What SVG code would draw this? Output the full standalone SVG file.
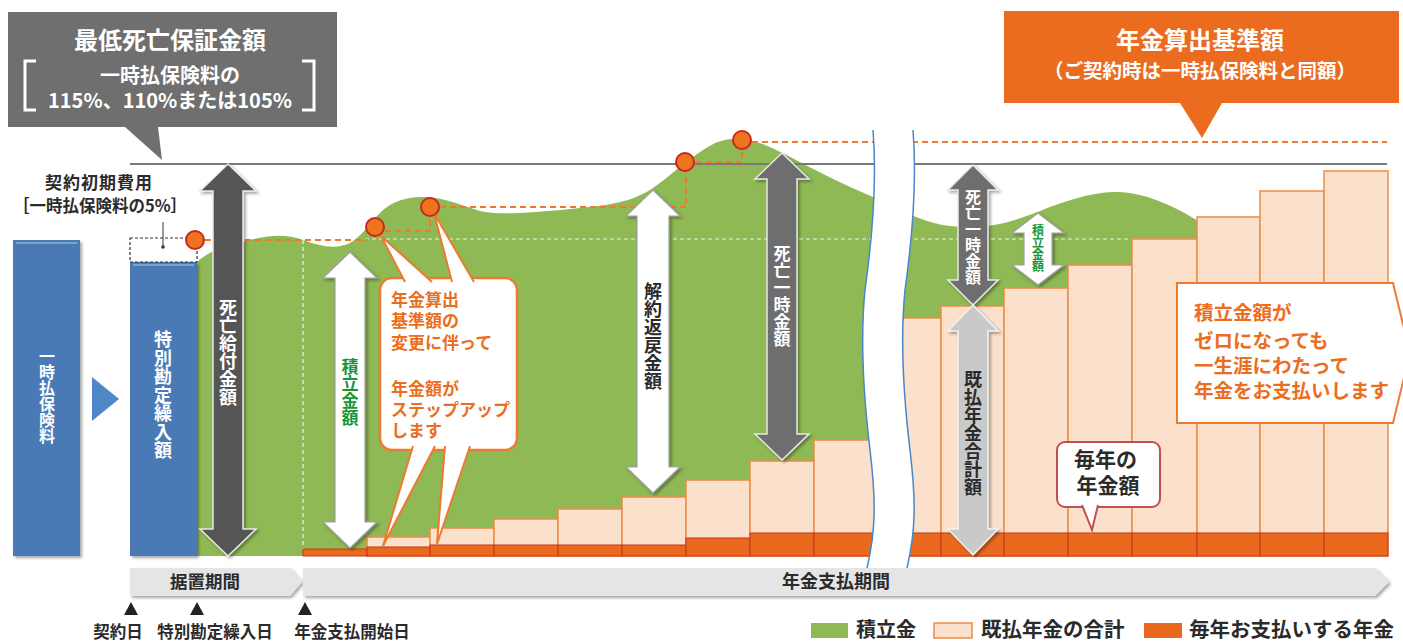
<svg xmlns="http://www.w3.org/2000/svg" width="1403" height="641" viewBox="0 0 1403 641">
<defs>
<style>
.t{font-family:"Noto Sans CJK JP","Noto Sans",sans-serif;font-weight:700}
.v{writing-mode:vertical-rl;text-orientation:upright}
.w{fill:#ffffff}
.dk{fill:#2b2b2b}
.or{fill:#eb6d20}
.gr{fill:#17953a}
.peach{fill:#fbe1cb;stroke:#f08a45;stroke-width:1.5}
.ann{fill:#e9691f;stroke:#c8341c;stroke-width:1}
.odash{fill:none;stroke:#ee7a30;stroke-width:2;stroke-dasharray:6 4}
.wdash{fill:none;stroke:#ffffff;stroke-opacity:0.85;stroke-width:1.2;stroke-dasharray:4 3}
.dot{fill:#ee7420;stroke:#c8281e;stroke-width:2}
.band{fill:#e5e5e5}
</style>
<filter id="sh" x="-20%" y="-20%" width="140%" height="140%">
<feDropShadow dx="2" dy="2" stdDeviation="1.5" flood-color="#000" flood-opacity="0.35"/>
</filter>
</defs>

<g id="accumulation-area">
<path fill="#8fb955" d="M197,556 L197,262 C210,250 230,244 250,240 C265,236 285,233 303,240 C320,246 335,250 350,243 C362,236 368,225 378,215 C388,204 400,198 420,197 C440,196 455,203 480,211 C500,216 540,212 580,208 C610,205 630,202 650,190 C670,177 690,156 715,143 C730,137 745,137 765,145 C790,155 820,175 880,200 L880,556 Z"/>
<path fill="#8fb955" d="M900,210 C925,222 945,228 975,227 C1000,226 1020,219 1050,207 C1080,196 1100,191 1120,192 C1150,194 1175,207 1200,222 L1200,556 L900,556 Z"/>
<path class="wdash" d="M365,239 H880 M900,239 H1200 M303,240 V549"/>
</g>

<g id="guide-lines">
<path d="M130,164 H1387" stroke="#7a7a7a" stroke-width="2.2" fill="none"/>
<path class="odash" d="M195,240 H368 M375,231 H430 V207 M430,207 H686 V162 M686,162 H742 V140 M742,142 H1387"/>
</g>

<g id="bars">
<rect class="peach" x="367" y="537" width="63" height="19"/>
<rect class="peach" x="430" y="528" width="64" height="28"/>
<rect class="peach" x="494" y="519" width="64" height="37"/>
<rect class="peach" x="558" y="509" width="64" height="47"/>
<rect class="peach" x="622" y="497" width="64" height="59"/>
<rect class="peach" x="686" y="480" width="64" height="76"/>
<rect class="peach" x="750" y="461" width="64" height="95"/>
<rect class="peach" x="814" y="440" width="64" height="116"/>
<rect class="peach" x="878" y="318" width="63" height="238"/>
<rect class="peach" x="941" y="306" width="63" height="250"/>
<rect class="peach" x="1004" y="288" width="64" height="268"/>
<rect class="peach" x="1068" y="265" width="64" height="291"/>
<rect class="peach" x="1132" y="239" width="65" height="317"/>
<rect class="peach" x="1197" y="217" width="63" height="339"/>
<rect class="peach" x="1260" y="191" width="64" height="365"/>
<rect class="peach" x="1324" y="171" width="64" height="385"/>
<rect class="ann" x="303" y="549" width="64" height="7"/>
<rect class="ann" x="367" y="547" width="63" height="9"/>
<rect class="ann" x="430" y="545" width="64" height="11"/>
<rect class="ann" x="494" y="545" width="64" height="11"/>
<rect class="ann" x="558" y="545" width="64" height="11"/>
<rect class="ann" x="622" y="545" width="64" height="11"/>
<rect class="ann" x="686" y="538" width="64" height="18"/>
<rect class="ann" x="750" y="533" width="64" height="23"/>
<rect class="ann" x="814" y="533" width="64" height="23"/>
<rect class="ann" x="878" y="533" width="63" height="23"/>
<rect class="ann" x="941" y="533" width="63" height="23"/>
<rect class="ann" x="1004" y="533" width="64" height="23"/>
<rect class="ann" x="1068" y="533" width="64" height="23"/>
<rect class="ann" x="1132" y="533" width="65" height="23"/>
<rect class="ann" x="1197" y="533" width="63" height="23"/>
<rect class="ann" x="1260" y="533" width="64" height="23"/>
<rect class="ann" x="1324" y="533" width="64" height="23"/>
</g>

<g id="premium-box">
<rect x="13" y="240" width="67" height="316" fill="#4a7ab6" filter="url(#sh)"/>
<path d="M16,243 H77" stroke="#b7cce6" stroke-width="1.2"/>
<text class="t w v" x="47" y="396" font-size="16" text-anchor="middle">一時払保険料</text>
</g>

<g id="flow-triangle">
<polygon points="92,377 119,399 92,421" fill="#4f86c6"/>
</g>

<g id="special-account-box">
<rect x="130" y="262" width="67" height="294" fill="#4a7ab6" filter="url(#sh)"/>
<path d="M133,265 H194" stroke="#b7cce6" stroke-width="1.2"/>
<text class="t w v" x="163" y="395" font-size="18" text-anchor="middle" letter-spacing="0.5">特別勘定繰入額</text>
</g>

<g id="initial-cost">
<rect x="130" y="238" width="67" height="24" fill="none" stroke="#333" stroke-width="1.2" stroke-dasharray="3 2"/>
<path d="M163,222 V247" stroke="#333" stroke-width="1"/>
<circle cx="163" cy="247" r="1.8" fill="#333"/>
<text class="t dk" x="99" y="189" font-size="17" font-weight="500" text-anchor="middle" letter-spacing="1">契約初期費用</text>
<text class="t dk" x="100" y="212" font-size="16.5" font-weight="500" text-anchor="middle">［一時払保険料の5%］</text>
</g>

<g id="callout-stepup">
<rect x="380" y="278" width="137" height="172" rx="12" fill="#fff" stroke="#ee7a30" stroke-width="2.5"/>
<path d="M405,282 L381,236 L432,282" fill="#fff" stroke="#ee7a30" stroke-width="2"/>
<path d="M452,282 L434,213 L474,282" fill="#fff" stroke="#ee7a30" stroke-width="2"/>
<path d="M413,446 L383,546 L435,446" fill="#fff" stroke="#ee7a30" stroke-width="2"/>
<path d="M445,446 L437,544 L470,446" fill="#fff" stroke="#ee7a30" stroke-width="2"/>
<text class="t or" font-size="17">
<tspan x="391" y="306">年金算出</tspan>
<tspan x="391" y="327">基準額の</tspan>
<tspan x="391" y="349">変更に伴って</tspan>
<tspan x="391" y="395">年金額が</tspan>
<tspan x="391" y="416">ステップアップ</tspan>
<tspan x="391" y="437">します</tspan>
</text>
</g>

<g id="arrow-death-benefit">
<path d="M228,164 L256,191 L243,191 L243,529 L256,529 L228,556 L200,529 L213,529 L213,191 L200,191 Z" fill="#555" stroke="#e8e8e8" stroke-width="1.5" filter="url(#sh)"/>
<text class="t w v" x="228" y="352" font-size="18" font-weight="500" text-anchor="middle">死亡給付金額</text>
</g>

<g id="arrow-reserve-1">
<path d="M350,252 L377,278 L365,278 L365,522 L377,522 L350,548 L323,522 L335,522 L335,278 L323,278 Z" fill="#fff" stroke="#a0a0a0" stroke-width="1.2" filter="url(#sh)"/>
<text class="t gr v" x="350" y="392" font-size="17" text-anchor="middle">積立金額</text>
</g>

<g id="arrow-surrender">
<path d="M653,190 L680,216 L669,216 L669,467 L680,467 L653,493 L626,467 L637,467 L637,216 L626,216 Z" fill="#fff" stroke="#a0a0a0" stroke-width="1.2" filter="url(#sh)"/>
<text class="t dk v" x="653" y="336" font-size="18" text-anchor="middle">解約返戻金額</text>
</g>

<g id="arrow-death-lump-1">
<path d="M782,153 L809,179 L797,179 L797,434 L809,434 L782,460 L755,434 L767,434 L767,179 L755,179 Z" fill="#6e6e6e" stroke="#e8e8e8" stroke-width="1.5" filter="url(#sh)"/>
<text class="t w v" x="782" y="296" font-size="17" font-weight="500" text-anchor="middle">死亡一時金額</text>
</g>

<g id="dots">
<circle class="dot" cx="195" cy="240" r="9"/>
<circle class="dot" cx="375" cy="227" r="9"/>
<circle class="dot" cx="430" cy="207" r="9"/>
<circle class="dot" cx="685" cy="162" r="9"/>
<circle class="dot" cx="742" cy="140" r="9"/>
</g>

<g id="time-break">
<path d="M873,130 C877,180 872,240 865,290 C860,340 864,400 870,450 C876,500 876,530 867,568 L907,568 C916,530 916,500 910,450 C904,400 900,340 905,290 C912,240 917,180 913,130 Z" fill="#fff"/>
<path d="M873,130 C877,180 872,240 865,290 C860,340 864,400 870,450 C876,500 876,530 867,568" fill="none" stroke="#4a86c8" stroke-width="1.5"/>
<path d="M913,130 C917,180 912,240 905,290 C900,340 904,400 910,450 C916,500 916,530 907,568" fill="none" stroke="#4a86c8" stroke-width="1.5"/>
</g>

<g id="arrow-death-lump-2">
<path d="M973,165 L998,190 L988,190 L988,280 L998,280 L973,305 L948,280 L958,280 L958,190 L948,190 Z" fill="#6e6e6e" stroke="#e8e8e8" stroke-width="1.5" filter="url(#sh)"/>
<text class="t w v" x="973" y="237" font-size="16" font-weight="500" text-anchor="middle">死亡一時金額</text>
</g>

<g id="arrow-paid-total">
<path d="M973,305 L998,331 L988,331 L988,529 L998,529 L973,555 L948,529 L958,529 L958,331 L948,331 Z" fill="#c9c9c9" stroke="#f2f2f2" stroke-width="1.5" filter="url(#sh)"/>
<text class="t dk v" x="973" y="433" font-size="18" text-anchor="middle">既払年金合計額</text>
</g>

<g id="arrow-reserve-2">
<path d="M1038,213 L1064,233 L1052,233 L1052,265 L1064,265 L1038,285 L1012,265 L1024,265 L1024,233 L1012,233 Z" fill="#fff" stroke="#a0a0a0" stroke-width="1.2" filter="url(#sh)"/>
<text class="t gr v" x="1038" y="248" font-size="12" text-anchor="middle">積立金額</text>
</g>

<g id="callout-lifetime">
<path d="M1177,283 H1393 L1410,353 L1393,423 H1177 Z" fill="#fff" stroke="#ee7a30" stroke-width="2"/>
<text class="t or" font-size="19.5">
<tspan x="1194" y="320">積立金額が</tspan>
<tspan x="1194" y="348">ゼロになっても</tspan>
<tspan x="1194" y="373">一生涯にわたって</tspan>
<tspan x="1194" y="398">年金をお支払いします</tspan>
</text>
</g>

<g id="callout-annual">
<rect x="1057" y="442" width="103" height="65" rx="8" fill="#fff" stroke="#c0504d" stroke-width="2"/>
<path d="M1082,505 L1092,530 L1098,505" fill="#fff" stroke="#c0504d" stroke-width="2"/>
<text class="t dk" font-size="21" text-anchor="middle">
<tspan x="1108" y="467">毎年の</tspan>
<tspan x="1108" y="493">年金額</tspan>
</text>
</g>

<g id="callout-min-death">
<path d="M8,12 H337 V127 H158 L162,160 L125,127 H8 Z" fill="#6f6f6f"/>
<text class="t w" x="170" y="49" font-size="24" text-anchor="middle">最低死亡保証金額</text>
<text class="t w" x="170" y="83" font-size="20" font-weight="500" text-anchor="middle">一時払保険料の</text>
<text class="t w" x="170" y="108" font-size="20" font-weight="500" text-anchor="middle">115%、110%または105%</text>
<polyline points="36,61 25,61 25,110 36,110" fill="none" stroke="#fff" stroke-width="3"/>
<polyline points="302,61 314,61 314,110 302,110" fill="none" stroke="#fff" stroke-width="3"/>
</g>

<g id="callout-base-amount">
<path d="M1004,11 H1399 V103 H1222 L1202,138 L1180,103 H1004 Z" fill="#eb6c1f"/>
<text class="t w" x="1200" y="49" font-size="24" text-anchor="middle">年金算出基準額</text>
<text class="t w" x="1200" y="78" font-size="19.5" font-weight="500" text-anchor="middle">（ご契約時は一時払保険料と同額）</text>
</g>

<g id="timeline">
<path class="band" d="M130,568 H290 L302,582 L290,596 H130 Z" filter="url(#sh)"/>
<path class="band" d="M303,568 H1375 L1389,582 L1375,596 H303 Z" filter="url(#sh)"/>
<text class="t dk" x="205" y="588" font-size="17.5" text-anchor="middle">据置期間</text>
<text class="t dk" x="836" y="588" font-size="18" text-anchor="middle">年金支払期間</text>
<polygon points="131,602 124,615 138,615" fill="#222"/>
<polygon points="197,602 190,615 204,615" fill="#222"/>
<polygon points="305,602 298,615 312,615" fill="#222"/>
<text class="t dk" x="118" y="638" font-size="16.5" text-anchor="middle">契約日</text>
<text class="t dk" x="215" y="638" font-size="16.5" text-anchor="middle">特別勘定繰入日</text>
<text class="t dk" x="352" y="638" font-size="16.5" text-anchor="middle">年金支払開始日</text>
</g>

<g id="legend">
<rect x="811" y="623" width="37" height="15" fill="#8fb955"/>
<text class="t dk" x="856" y="637" font-size="20">積立金</text>
<rect x="934" y="623" width="38" height="15" fill="#fbe1cb" stroke="#f08a45" stroke-width="1.5"/>
<text class="t dk" x="981" y="637" font-size="20.5">既払年金の合計</text>
<rect x="1144" y="623" width="38" height="15" fill="#e9691f"/>
<text class="t dk" x="1189" y="637" font-size="20.5">毎年お支払いする年金</text>
</g>
</svg>
